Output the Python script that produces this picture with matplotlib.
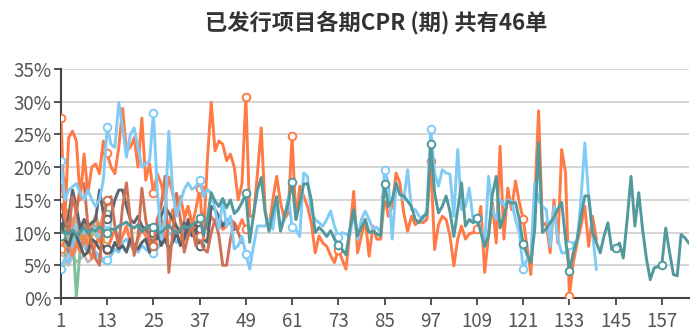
import matplotlib.pyplot as plt
from matplotlib.ticker import FuncFormatter

plt.rcParams['font.family'] = ['Noto Sans CJK SC', 'DejaVu Sans']

# CPR (%) per period for each issued deal; every deal starts at period 1
orange_main = [
    27.5, 12.0, 24.5, 25.5, 24.0, 15.0, 22.0, 16.0, 20.0, 20.5, 19.0, 24.0,
    22.1, 20.0, 19.0, 23.0, 29.0, 22.5, 23.0, 24.5, 20.0, 27.5, 18.0, 20.5,
    16.0, 19.0, 17.5, 15.0, 18.5, 16.0, 13.0, 15.5, 12.5, 14.0, 11.0, 13.5,
    16.7, 9.0, 21.0, 29.9, 22.5, 24.0, 23.5, 21.0, 22.0, 20.0, 15.0, 17.5,
    30.7, 12.5, 12.5, 19.0, 26.0, 13.5, 10.5, 15.0, 18.6, 14.6, 12.0, 13.0,
    24.7, 12.0, 17.1, 15.6, 14.0, 11.5, 6.9, 9.5, 8.4, 7.9, 6.5, 5.4,
    7.4, 5.9, 4.4, 10.0, 16.3, 6.9, 9.5, 12.0, 6.4, 11.0, 9.0, 9.0,
    15.5, 12.5, 14.0, 19.1, 17.6, 13.0, 10.2, 12.5, 11.2, 11.8, 11.5, 12.0,
    21.0, 7.4, 11.2, 12.5, 12.0, 9.5, 4.9, 9.0, 11.0, 9.0, 9.8, 10.0,
    10.5, 14.0, 3.9, 9.5, 14.6, 8.4, 23.2, 9.0, 16.8, 13.5, 17.9, 14.6,
    12.1, 7.9, 3.6, 15.0, 28.6, 11.0, 11.5, 6.9, 15.0, 8.4, 22.7, 19.1,
    0.3, 5.4, 8.4, 11.0, 14.0, 7.9, 12.5, 9.0,
]
blue_main = [
    21.0, 15.0, 16.5, 17.0, 17.5, 16.0, 15.0, 16.5, 15.0, 14.0, 15.0, 18.0,
    26.1, 23.5, 23.0, 29.9, 26.0, 21.5, 25.0, 26.0, 23.0, 20.0, 20.5, 21.0,
    28.3, 16.6, 9.0, 12.0, 25.5, 16.6, 12.5, 14.6, 16.6, 17.6, 16.6, 17.0,
    18.1, 15.5, 16.6, 16.0, 13.5, 10.5, 15.0, 11.0, 12.5, 7.5, 8.0, 9.4,
    6.7, 4.4, 8.0, 11.0, 11.0, 11.0, 12.0, 10.5, 15.0, 10.5, 12.0, 15.5,
    10.9, 10.5, 9.4, 19.1, 18.6, 13.0, 12.0, 11.5, 11.0, 12.0, 13.3, 11.0,
    9.4, 10.0, 9.8, 9.5, 13.0, 9.0, 12.0, 13.3, 12.0, 10.5, 10.8, 10.0,
    19.6, 17.6, 9.0, 17.1, 16.0, 15.0, 19.6, 13.5, 13.5, 12.5, 12.0, 13.5,
    25.9, 19.1, 17.1, 19.6, 19.1, 18.9, 12.5, 22.7, 13.5, 14.0, 16.8, 12.0,
    12.0, 10.5, 7.9, 18.6, 13.5, 12.0, 15.0, 14.2, 15.0, 14.8, 12.0, 10.0,
    4.5, 5.9, 6.4, 17.6, 15.0, 14.0, 13.5, 7.9, 14.0, 9.0, 6.9, 6.9,
    8.1, 8.4, 8.6, 15.0, 23.7, 15.5, 10.0, 4.4,
]
teal_main = [
    9.5, 10.2, 9.8, 10.4, 9.6, 10.1, 10.8, 9.9, 10.5, 10.2, 10.9, 10.3,
    10.0, 10.6, 10.4, 11.0, 11.3, 11.6, 11.0, 10.7, 11.2, 10.1, 10.8, 11.1,
    10.8, 10.2, 10.0, 10.6, 11.1, 10.4, 9.9, 10.5, 11.0, 10.7, 11.2, 11.5,
    12.3, 9.6, 12.0, 16.1, 14.8, 14.0, 15.2, 13.8, 15.0, 12.9, 13.5, 14.6,
    16.0, 8.5, 12.8, 16.5, 18.4, 13.1, 10.2, 13.0, 15.5, 10.2, 12.5, 14.5,
    17.8, 12.0, 14.5, 17.4, 17.5, 15.0, 10.0, 10.8, 10.2, 9.4, 10.3, 9.0,
    8.1, 7.4, 6.6, 10.5, 13.5, 9.5, 10.8, 12.0, 10.0, 10.2, 9.8, 9.5,
    17.4, 14.0, 15.0, 17.6, 15.8, 15.6, 14.8, 14.0, 12.0, 11.5, 12.5, 12.8,
    23.5, 16.1, 13.0, 14.0, 15.6, 13.2, 9.4, 13.5, 17.6, 11.0, 12.0, 11.5,
    12.3, 10.0, 7.9, 9.5, 15.8, 18.6, 10.7, 12.5, 14.8, 14.5, 14.6, 12.0,
    8.2, 6.6, 5.4, 10.5, 23.7, 10.0, 10.6, 11.5, 12.4, 13.6, 14.6, 9.0,
    4.1, 6.9, 9.0, 12.5, 15.6, 15.6, 10.0, 8.5, 6.9, 9.5, 11.5, 7.4,
    7.7, 8.4, 6.1, 12.0, 18.6, 11.0, 16.1, 10.5, 6.0, 2.8, 4.6, 4.8,
    5.1, 10.7, 7.0, 3.6, 3.4, 9.7, 9.2, 8.4,
]
slate_high = [
    13.5, 11.0, 12.5, 16.5, 14.0, 10.5, 12.0, 11.0, 11.5, 12.0, 16.5, 13.0,
    12.0, 12.5, 15.0, 16.5, 16.5, 14.0, 12.0, 11.5, 12.5, 11.0, 10.5, 9.5,
    10.0, 9.0, 12.5, 14.0, 13.0, 12.0, 11.0, 10.0, 11.5, 9.5, 12.0, 11.0,
    10.5, 9.0, 8.5, 14.0, 13.5, 12.5, 11.0, 12.0, 11.5, 10.5,
]
slate_low = [
    12.0, 9.0, 8.0, 10.0, 9.5, 8.0, 6.5, 7.0, 9.0, 8.5, 7.5, 8.0,
    7.5, 7.0, 8.5, 7.5, 8.0, 7.0, 9.0, 8.0, 7.5, 8.5, 9.0, 7.0,
    9.5, 10.5, 8.0, 9.0, 7.5, 8.5, 10.0, 8.0, 9.0, 12.0, 9.5, 10.5, 8.0,
]
brown = [
    15.0, 12.0, 10.0, 15.5, 13.0, 17.0, 17.5, 11.0, 8.0, 6.0, 5.0, 12.0,
    15.0, 15.5, 11.0, 8.0, 14.0, 17.6, 12.0, 6.5, 9.5, 16.8, 12.0, 9.0,
    8.0, 12.0, 14.0, 18.6, 3.9, 10.0, 16.0, 12.0, 7.0, 9.5, 11.0, 8.0,
    9.5, 7.5, 7.0, 10.0, 12.0, 9.5, 5.0, 5.0, 9.0, 11.5, 10.0, 8.5,
]
orange_low = [
    7.5, 9.0, 8.0, 6.5, 8.5, 7.0, 9.5, 8.0, 6.0, 8.5, 9.0, 7.5,
    7.4, 9.0, 10.5, 8.0, 9.5, 11.0, 8.5, 7.0, 9.0, 10.5, 9.5, 8.0,
    8.2, 10.5, 12.0, 9.0, 11.0, 13.5, 10.0, 8.5, 12.0, 14.0, 11.5, 10.0,
    11.1, 13.0, 10.5, 12.5, 11.5, 12.0, 10.5, 11.0, 12.0, 11.5, 10.5, 12.0, 10.5,
]
orange_mid = [18.0, 14.0, 12.5, 11.0, 13.5, 10.0, 12.0, 9.5, 11.0, 12.5, 10.0, 13.0, 14.9]
blue_low = [
    4.5, 6.0, 5.5, 8.0, 9.5, 8.5, 8.0, 7.5, 8.0, 7.0, 6.0, 5.5,
    5.8, 6.5, 7.5, 7.0, 8.5, 9.0, 8.0, 7.5, 7.0, 8.0, 7.5, 7.0,
    6.9, 7.5, 8.5, 9.0, 10.0, 9.5, 8.5, 9.0, 10.5, 11.0, 9.5, 10.0, 9.0,
]
blue_mid = [15.7, 13.0, 11.0, 12.0, 10.5, 11.5, 10.0, 9.5, 11.0, 10.5, 9.0, 10.0, 11.5]
green = [12.5, 9.0, 8.0, 10.0, 0.3, 7.5, 9.5, 11.0, 10.0, 12.5, 11.0, 12.0, 12.8]
grey = [6.0, 5.5, 5.0, 6.5, 5.5, 6.0, 6.5, 5.5, 6.0, 7.0, 6.5, 6.0]

# newer deals with only a few periods of history
early_runs = [
    [9.5, 10.5, 11.0, 9.0, 10.0, 11.5, 10.0, 9.5, 10.5, 11.0, 10.0, 10.5, 12.8],
    [8.5, 9.5, 10.0, 11.0, 10.5, 9.0, 11.5, 10.5, 9.5, 10.0, 11.0, 10.5, 11.8],
    [10.0, 11.5, 9.0, 8.5, 9.5, 10.5, 8.0, 9.0, 10.0, 9.5, 8.5, 9.0, 10.0],
    [7.0, 8.5, 9.5, 8.0, 7.5, 9.0, 8.5, 10.0, 9.0, 8.0, 9.5, 8.5, 9.0],
    [11.5, 10.0, 12.0, 10.5, 9.0, 10.0, 11.0],
    [6.5, 8.0, 9.0, 7.5, 8.5, 9.5],
    [12.0, 14.0, 11.5, 10.0, 12.5],
    [8.0, 9.5, 10.5, 9.0],
    [6.0, 7.5, 9.0, 8.5, 10.0, 9.5, 8.0, 7.0],
    [9.0, 8.0, 10.0, 11.0, 9.5, 10.5],
    [10.5, 12.0, 13.5, 11.0],
    [7.5, 9.0, 8.0],
    [5.5, 6.5, 7.0, 6.0, 7.5],
    [8.0, 7.0, 8.5, 9.5, 8.0, 9.0, 10.0, 8.5, 9.5],
    [11.0, 9.5, 10.0],
    [6.5, 5.5, 7.0, 8.0],
    [9.0, 10.5, 9.5, 11.0, 12.0, 10.0],
    [13.0, 11.5, 12.5],
    [7.0, 8.0, 7.5, 9.0, 8.5],
    [10.0, 8.5, 9.0, 10.5, 9.5, 11.0, 10.0],
    [8.5, 10.0, 9.0],
    [6.0, 7.0, 8.5, 7.5],
    [12.5, 11.0, 13.0, 12.0, 11.5],
    [9.5, 8.0, 9.0, 10.0],
    [7.5, 6.5, 8.0],
    [10.5, 9.5, 11.0, 10.0, 12.0, 11.5, 10.5, 9.5, 11.0, 10.0],
    [8.0, 9.0],
    [11.0, 12.5, 10.5],
    [6.5, 8.0, 7.0, 9.0, 8.5, 7.5],
    [9.0, 10.0, 8.5],
    [7.0, 8.5],
    [10.0, 11.0, 9.5, 10.5],
    [8.5, 7.5, 9.0, 10.0, 8.0],
    [9.5, 11.0],
]
early_colors = ['#7fbf9e', '#9fcdb4', '#a9c5a2', '#dba13c', '#f3b89c',
                '#b9b9b9', '#90b9c9', '#e0906c', '#6f8e9b', '#c8a686']

n_periods = 164
tick_periods = list(range(1, n_periods + 1, 12))

fig = plt.figure(figsize=(7, 3.35), dpi=100)
ax = fig.add_axes([0.0871, 0.1104, 0.8969, 0.6836])


def draw(values, color, lw=2.1):
    periods = range(1, len(values) + 1)
    ax.plot(periods, values, color=color, lw=lw, solid_joinstyle='round',
            marker='o', markevery=12, markersize=5.5, markerfacecolor='white',
            markeredgecolor=color, markeredgewidth=1.4, zorder=3)


for i, run in enumerate(early_runs):
    draw(run, early_colors[i % len(early_colors)], lw=1.8)

draw(grey, '#bdbdbd')
draw(green, '#7dc09b')
draw(blue_mid, '#84cbf2')
draw(blue_low, '#7cc8f4')
draw(orange_mid, '#f58a5c')
draw(orange_low, '#ff7c4c')
draw(slate_low, '#55616a')
draw(slate_high, '#5a666f')
draw(brown, '#cd7257')
draw(orange_main, '#ff7a45')
draw(blue_main, '#80cbf5')
draw(teal_main, '#52999c')

ax.set_xlim(1, n_periods)
ax.set_ylim(0, 35)
ax.set_yticks(range(0, 36, 5))
ax.yaxis.set_major_formatter(FuncFormatter(lambda v, _: f'{v:.0f}%'))
ax.set_xticks(tick_periods)
ax.set_xticklabels([str(p) for p in tick_periods])

ax.grid(axis='y', color='#d2d2d2', lw=1.3)
ax.set_axisbelow(True)
for side in ('top', 'right'):
    ax.spines[side].set_visible(False)
for side in ('left', 'bottom'):
    ax.spines[side].set_color('#444444')
    ax.spines[side].set_linewidth(1.5)
ax.tick_params(axis='both', colors='#444444', labelcolor='#555555',
               labelsize=13.5, length=5, width=1.3)
ax.tick_params(axis='x', pad=4)
ax.tick_params(axis='y', pad=2)

fig.text(0.537, 0.932, '已发行项目各期CPR (期) 共有46单', ha='center', va='center',
         fontsize=16, fontweight='bold', color='#333333')

fig.savefig('out.png', dpi=100)
